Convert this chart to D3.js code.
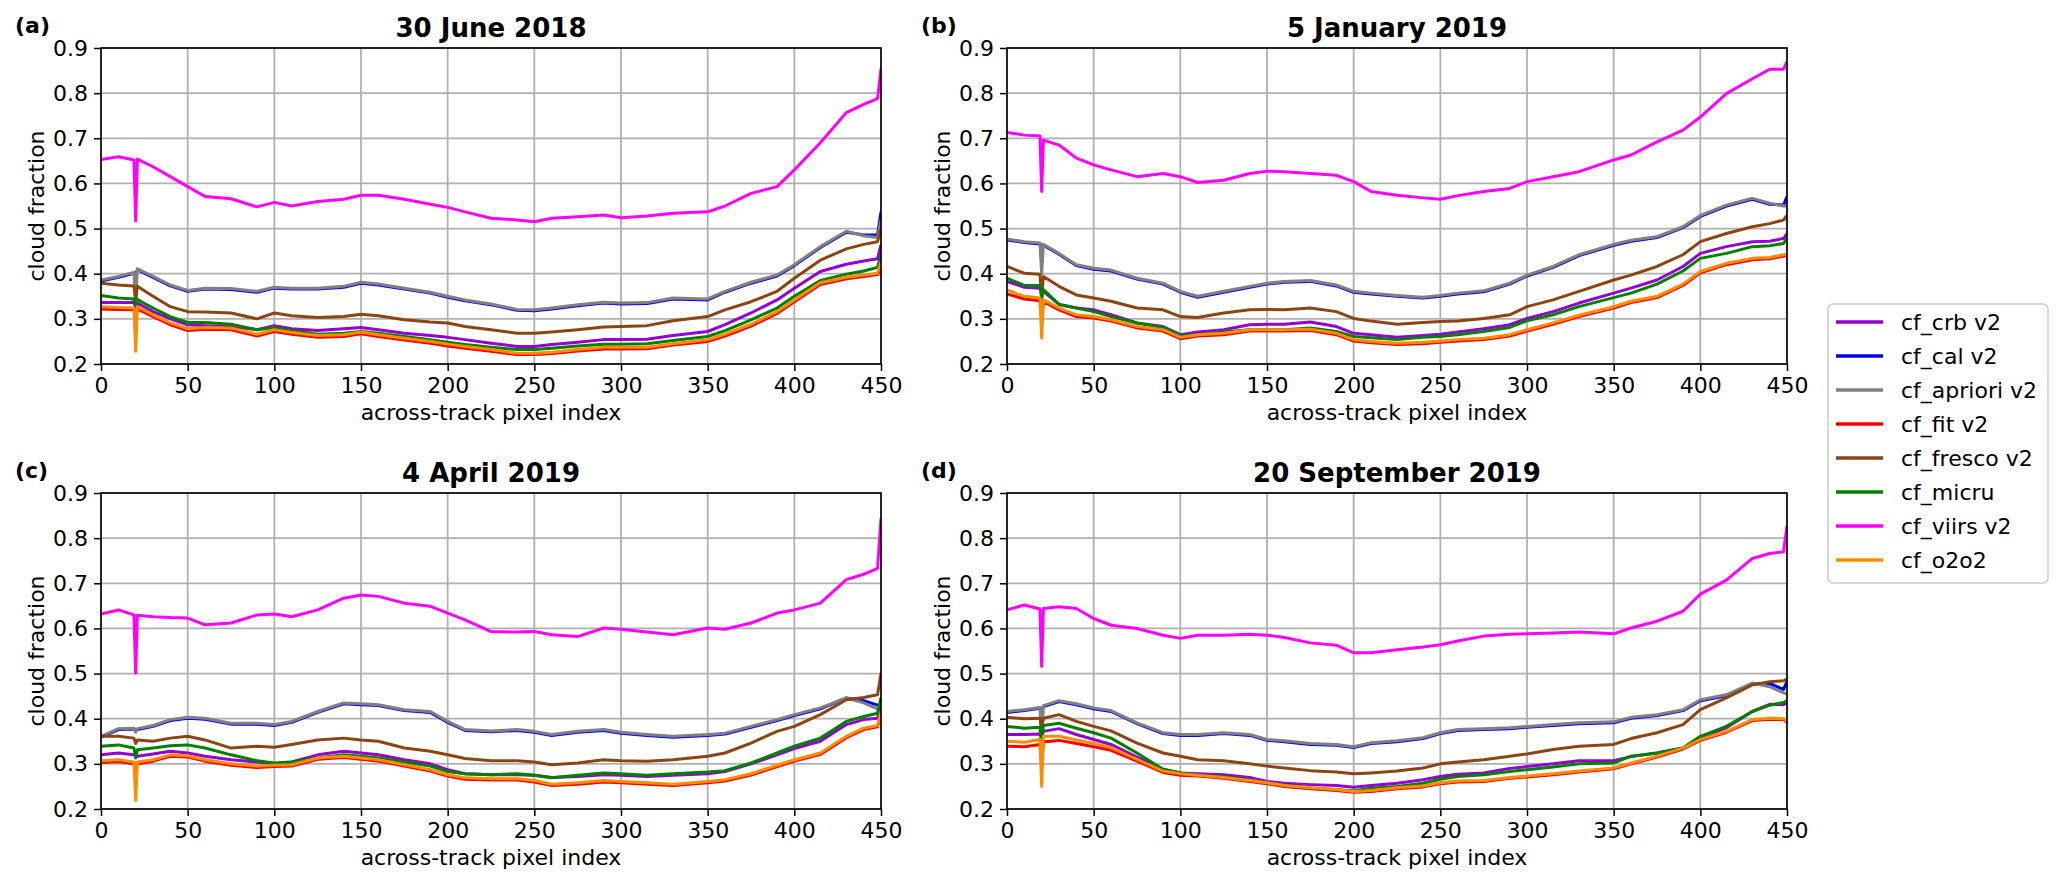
<!DOCTYPE html>
<html>
<head>
<meta charset="utf-8">
<script src="https://cdn.jsdelivr.net/npm/d3@7"></script>
<style>
  body { margin: 0; background: #fff; }
  text { font-family: "DejaVu Sans", sans-serif; }
</style>
</head>
<body>
<script>
const pixelIndex = [0, 10, 19, 20, 21, 30, 40, 50, 60, 75, 90, 100, 110, 125, 140, 150, 160, 175, 190, 200,
  210, 225, 240, 250, 260, 275, 290, 300, 315, 330, 350, 360, 375, 390, 400, 415, 430, 440, 448, 450];

const xTicks = [0, 50, 100, 150, 200, 250, 300, 350, 400, 450];
const yTicks = [0.2, 0.3, 0.4, 0.5, 0.6, 0.7, 0.8, 0.9];

const panelTags = ['(a)', '(b)', '(c)', '(d)'];
const panelTitles = ['30 June 2018', '5 January 2019', '4 April 2019', '20 September 2019'];
const seriesNames = ['cf_crb v2', 'cf_cal v2', 'cf_apriori v2', 'cf_fit v2', 'cf_fresco v2', 'cf_micru', 'cf_viirs v2', 'cf_o2o2'];

// (a) 30 June 2018
const crbA = [.336,.336,.336,.325,.335,.316,.300,.287,.285,.283,.276,.285,.278,.274,.278,.281,.276,.268,.263,.259,.254,.246,.239,.239,.243,.248,.254,.254,.255,.263,.272,.287,.313,.342,.368,.405,.421,.428,.433,.464];
const calA = [.384,.392,.401,.398,.409,.392,.373,.361,.366,.365,.359,.368,.366,.366,.370,.379,.375,.366,.357,.348,.340,.331,.319,.318,.322,.329,.335,.333,.334,.344,.342,.359,.379,.395,.418,.458,.492,.486,.486,.537];
const aprA = [.386,.394,.403,.335,.411,.394,.375,.363,.368,.367,.361,.370,.368,.368,.372,.381,.377,.368,.359,.350,.342,.333,.321,.320,.324,.331,.337,.335,.336,.346,.344,.361,.381,.397,.420,.460,.494,.484,.480,.520];
const fitA = [.322,.321,.320,.300,.322,.305,.287,.274,.277,.276,.262,.272,.266,.259,.261,.267,.261,.253,.246,.240,.235,.228,.221,.221,.223,.229,.233,.233,.234,.242,.250,.262,.284,.312,.338,.376,.389,.394,.398,.410];
const frescoA = [.379,.375,.373,.340,.372,.350,.327,.316,.315,.313,.300,.313,.307,.303,.305,.310,.307,.298,.293,.291,.283,.276,.268,.268,.271,.276,.282,.283,.285,.296,.305,.320,.338,.361,.390,.430,.455,.465,.471,.500];
const micruA = [.352,.346,.344,.330,.343,.324,.305,.292,.292,.288,.276,.281,.274,.266,.268,.272,.268,.261,.254,.248,.243,.237,.232,.232,.235,.240,.244,.244,.245,.252,.261,.274,.298,.324,.350,.385,.399,.406,.414,.442];
const viirsA = [.653,.659,.652,.517,.654,.637,.615,.593,.571,.566,.548,.558,.550,.560,.565,.574,.574,.565,.554,.547,.537,.523,.519,.515,.523,.526,.530,.524,.528,.534,.537,.550,.578,.593,.630,.690,.757,.775,.788,.854];
const o2o2A = [.327,.325,.324,.228,.327,.309,.291,.278,.281,.280,.266,.276,.270,.263,.265,.271,.265,.257,.250,.244,.239,.232,.224,.224,.226,.232,.237,.237,.237,.245,.254,.266,.288,.316,.342,.380,.392,.397,.401,.427];

// (b) 5 January 2019
const crbB = [.383,.370,.368,.357,.361,.332,.324,.320,.309,.291,.283,.265,.271,.276,.287,.288,.288,.293,.283,.268,.265,.259,.263,.266,.271,.278,.287,.301,.316,.335,.357,.368,.386,.416,.445,.460,.471,.472,.478,.489];
const calB = [.475,.469,.466,.462,.463,.443,.418,.410,.406,.388,.377,.359,.348,.359,.370,.377,.381,.383,.373,.359,.355,.350,.346,.350,.355,.360,.377,.395,.414,.440,.463,.472,.480,.502,.527,.550,.565,.554,.552,.571];
const aprB = [.477,.471,.468,.400,.465,.445,.420,.412,.408,.390,.379,.361,.350,.361,.372,.379,.383,.385,.375,.361,.357,.352,.348,.352,.357,.362,.379,.397,.416,.442,.465,.474,.482,.504,.529,.552,.567,.556,.550,.550];
const fitB = [.355,.344,.340,.300,.338,.320,.305,.302,.295,.280,.273,.256,.262,.265,.273,.273,.273,.274,.265,.251,.247,.243,.245,.248,.251,.254,.262,.273,.288,.305,.324,.336,.347,.374,.402,.420,.431,.433,.439,.440];
const frescoB = [.416,.401,.399,.346,.394,.372,.353,.346,.339,.324,.320,.305,.303,.313,.320,.321,.320,.324,.316,.301,.295,.288,.292,.294,.295,.301,.309,.327,.342,.361,.386,.397,.416,.442,.471,.489,.504,.511,.519,.529];
const micruB = [.390,.374,.374,.346,.365,.332,.324,.316,.305,.291,.281,.263,.265,.271,.276,.276,.276,.280,.272,.261,.258,.254,.259,.261,.265,.272,.281,.296,.309,.327,.347,.357,.377,.406,.434,.445,.460,.462,.467,.478];
const viirsB = [.713,.707,.705,.582,.696,.685,.656,.641,.630,.615,.622,.615,.602,.607,.622,.627,.626,.622,.618,.604,.582,.574,.568,.565,.573,.582,.589,.604,.615,.626,.652,.663,.692,.718,.747,.799,.832,.853,.853,.870];
const o2o2B = [.364,.350,.346,.257,.342,.324,.309,.305,.298,.283,.276,.259,.265,.268,.276,.276,.276,.277,.268,.254,.250,.246,.248,.251,.254,.257,.265,.276,.291,.308,.327,.339,.350,.377,.405,.423,.434,.436,.442,.443];

// (c) 4 April 2019
const crbC = [.320,.324,.320,.317,.317,.322,.328,.324,.317,.309,.304,.300,.304,.320,.328,.324,.320,.309,.300,.287,.278,.276,.276,.275,.270,.272,.276,.275,.272,.275,.278,.283,.300,.320,.334,.350,.387,.398,.401,.427];
const calC = [.359,.376,.377,.376,.376,.383,.396,.401,.399,.388,.388,.385,.392,.414,.433,.431,.429,.418,.414,.392,.374,.371,.374,.370,.363,.370,.374,.368,.363,.359,.363,.366,.381,.396,.407,.422,.446,.440,.430,.431];
const aprC = [.361,.378,.379,.370,.378,.385,.398,.403,.401,.390,.390,.387,.394,.416,.435,.433,.431,.420,.416,.394,.376,.373,.376,.372,.365,.372,.376,.370,.365,.361,.365,.368,.383,.398,.409,.424,.446,.435,.422,.438];
const fitC = [.303,.305,.300,.290,.300,.306,.317,.315,.306,.297,.292,.294,.295,.310,.314,.310,.306,.295,.284,.273,.266,.264,.264,.260,.252,.255,.260,.258,.255,.252,.258,.262,.275,.294,.306,.321,.358,.376,.382,.410];
const frescoC = [.361,.361,.357,.345,.353,.350,.357,.361,.353,.335,.339,.337,.343,.353,.357,.353,.350,.335,.328,.320,.312,.307,.307,.304,.298,.302,.309,.307,.306,.309,.317,.324,.346,.372,.383,.409,.442,.447,.453,.501];
const micruC = [.339,.342,.335,.313,.331,.335,.340,.342,.335,.320,.307,.302,.304,.313,.320,.317,.313,.304,.295,.283,.278,.276,.278,.275,.269,.275,.280,.278,.275,.278,.282,.285,.302,.324,.339,.357,.394,.405,.412,.447];
const viirsC = [.632,.641,.630,.501,.629,.626,.624,.623,.608,.612,.630,.632,.626,.641,.667,.674,.671,.656,.649,.634,.619,.593,.592,.593,.586,.582,.601,.598,.592,.586,.601,.598,.612,.634,.641,.656,.708,.720,.733,.844];
const o2o2C = [.307,.309,.304,.219,.304,.309,.320,.318,.309,.300,.295,.297,.298,.313,.317,.313,.309,.298,.287,.276,.269,.267,.267,.263,.255,.258,.263,.261,.258,.255,.261,.265,.278,.297,.309,.324,.361,.379,.385,.416];

// (d) 20 September 2019
const crbD = [.365,.365,.366,.360,.372,.378,.365,.354,.343,.315,.288,.280,.278,.276,.270,.261,.257,.254,.252,.248,.252,.257,.265,.272,.277,.280,.290,.294,.300,.307,.307,.316,.324,.335,.359,.380,.416,.432,.431,.436];
const calD = [.414,.418,.423,.420,.427,.438,.431,.422,.416,.389,.367,.363,.363,.367,.363,.352,.349,.343,.341,.336,.345,.349,.356,.367,.374,.376,.378,.381,.385,.389,.391,.401,.407,.418,.440,.451,.477,.478,.465,.483];
const aprD = [.416,.420,.425,.350,.429,.440,.433,.424,.418,.391,.369,.365,.365,.369,.365,.354,.351,.345,.343,.338,.347,.351,.358,.369,.376,.378,.380,.383,.387,.391,.393,.403,.409,.420,.442,.453,.479,.471,.457,.455];
const fitD = [.339,.338,.343,.300,.349,.352,.345,.338,.330,.306,.281,.275,.273,.268,.261,.256,.250,.245,.241,.237,.239,.245,.249,.256,.260,.261,.268,.271,.276,.282,.289,.300,.315,.333,.352,.370,.396,.399,.398,.392];
const frescoD = [.403,.400,.401,.380,.401,.409,.394,.383,.373,.346,.324,.317,.309,.307,.300,.295,.291,.285,.282,.278,.280,.284,.291,.300,.304,.309,.317,.322,.332,.339,.343,.356,.369,.387,.420,.446,.475,.482,.484,.488];
const micruD = [.383,.379,.381,.340,.385,.390,.379,.369,.357,.324,.288,.280,.275,.272,.264,.257,.253,.246,.243,.240,.246,.250,.257,.266,.272,.276,.283,.287,.293,.300,.302,.317,.324,.335,.361,.383,.416,.430,.436,.440];
const viirsD = [.641,.652,.643,.516,.644,.648,.644,.622,.607,.600,.585,.578,.585,.585,.587,.585,.580,.568,.563,.546,.546,.553,.559,.564,.572,.583,.587,.588,.590,.592,.588,.601,.616,.638,.676,.707,.755,.766,.770,.827];
const o2o2D = [.350,.348,.354,.250,.361,.361,.353,.345,.336,.310,.284,.278,.275,.270,.263,.258,.252,.247,.243,.239,.241,.247,.251,.258,.262,.263,.270,.273,.278,.284,.291,.302,.317,.335,.354,.372,.398,.401,.400,.394];

const panelSeries = [
  [crbA, calA, aprA, fitA, frescoA, micruA, viirsA, o2o2A],
  [crbB, calB, aprB, fitB, frescoB, micruB, viirsB, o2o2B],
  [crbC, calC, aprC, fitC, frescoC, micruC, viirsC, o2o2C],
  [crbD, calD, aprD, fitD, frescoD, micruD, viirsD, o2o2D]
];

const colors = ['darkviolet', 'blue', 'grey', 'red', 'saddlebrown', 'green', 'magenta', 'darkorange'];

const width = 2067;
const height = 889;
const plotW = 780;
const plotH = 316;
const origins = [[101, 48], [1007, 48], [101, 493], [1007, 493]];

const svg = d3.select('body')
  .append('svg')
  .attr('width', width)
  .attr('height', height);

const xScale = d3.scaleLinear().domain([0, 450]).range([0, plotW]);
const yScale = d3.scaleLinear().domain([0.2, 0.9]).range([plotH, 0]);

const line = d3.line()
  .x((d, i) => xScale(pixelIndex[i]))
  .y(d => yScale(d));

svg.append('defs').append('clipPath')
  .attr('id', 'plotClip')
  .append('rect')
  .attr('width', plotW)
  .attr('height', plotH);

panelSeries.forEach((series, p) => {
  const [ox, oy] = origins[p];
  const g = svg.append('g').attr('transform', `translate(${ox}, ${oy})`);

  // grid
  g.append('g').selectAll('line').data(xTicks).join('line')
    .attr('x1', d => xScale(d)).attr('x2', d => xScale(d))
    .attr('y1', 0).attr('y2', plotH)
    .attr('stroke', '#b0b0b0').attr('stroke-width', 1.8);
  g.append('g').selectAll('line').data(yTicks).join('line')
    .attr('x1', 0).attr('x2', plotW)
    .attr('y1', d => yScale(d)).attr('y2', d => yScale(d))
    .attr('stroke', '#b0b0b0').attr('stroke-width', 1.8);

  // series, drawn in legend order
  g.append('g').attr('clip-path', 'url(#plotClip)')
    .selectAll('path').data(series).join('path')
    .attr('d', line)
    .attr('fill', 'none')
    .attr('stroke', (d, i) => colors[i])
    .attr('stroke-width', 3)
    .attr('stroke-linejoin', 'round');

  // axes
  const xAxis = g.append('g')
    .attr('transform', `translate(0, ${plotH})`)
    .call(d3.axisBottom(xScale).tickValues(xTicks).tickSize(7).tickPadding(6));
  const yAxis = g.append('g')
    .call(d3.axisLeft(yScale).tickValues(yTicks).tickFormat(d3.format('.1f')).tickSize(7).tickPadding(6));
  [xAxis, yAxis].forEach(a => {
    a.select('.domain').remove();
    a.selectAll('.tick line').attr('stroke', '#000').attr('stroke-width', 1.5);
    a.selectAll('.tick text').attr('fill', '#000').style('font-size', '22px').style('font-family', 'DejaVu Sans');
  });

  // frame
  g.append('rect')
    .attr('width', plotW).attr('height', plotH)
    .attr('fill', 'none').attr('stroke', '#000').attr('stroke-width', 1.6);

  g.append('text')
    .attr('x', plotW / 2).attr('y', plotH + 56)
    .attr('text-anchor', 'middle')
    .style('font-size', '22px')
    .text('across-track pixel index');

  g.append('text')
    .attr('transform', `translate(-57, ${plotH / 2}) rotate(-90)`)
    .attr('text-anchor', 'middle')
    .style('font-size', '22px')
    .text('cloud fraction');

  g.append('text')
    .attr('x', plotW / 2).attr('y', -11)
    .attr('text-anchor', 'middle')
    .style('font-size', '26px').style('font-weight', 'bold')
    .text(panelTitles[p]);

  g.append('text')
    .attr('x', -86).attr('y', -15)
    .style('font-size', '22px').style('font-weight', 'bold')
    .text(panelTags[p]);
});

// legend
const legend = svg.append('g').attr('transform', 'translate(1828, 304)');
legend.append('rect')
  .attr('width', 220).attr('height', 279)
  .attr('rx', 5)
  .attr('fill', '#fff').attr('stroke', '#cccccc').attr('stroke-width', 1.5);
const items = legend.selectAll('g.item').data(seriesNames).join('g')
  .attr('class', 'item')
  .attr('transform', (d, i) => `translate(0, ${18 + i * 34})`);
items.append('line')
  .attr('x1', 8).attr('x2', 55)
  .attr('stroke', (d, i) => colors[i]).attr('stroke-width', 3.5);
items.append('text')
  .attr('x', 73).attr('y', 8)
  .style('font-size', '22px')
  .text(d => d);
</script>
</body>
</html>
